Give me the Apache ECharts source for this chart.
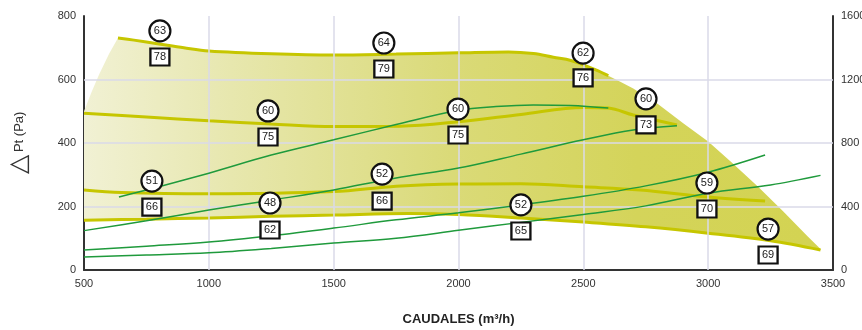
<!DOCTYPE html>
<html><head><meta charset="utf-8">
<script src="https://cdn.jsdelivr.net/npm/echarts/dist/echarts.min.js"></script>
<style>html,body{margin:0;padding:0;background:#fff}#c{width:862px;height:330px}</style>
</head><body><div id="c"></div>
<script>
// ---- data ----
const xGridValues = [1000, 1500, 2000, 2500, 3000];
const yGridValues = [200, 400, 600];

const fanTop = [[636,731],[700,724],[800,712],[900,700],[1000,690],[1250,681],[1500,677],[1750,680],[2000,684],[2200,687],[2300,682],[2380,670],[2450,660],[2500,646],[2550,630],[2600,612]];
const fanMid1 = [[500,494],[750,482],[1000,470],[1250,460],[1500,452],[1765,453],[2000,467],[2250,490],[2500,512],[2600,510],[2700,488],[2875,457]];
const fanMid2 = [[500,252],[650,244],[1000,240],[1500,247],[1750,264],[2000,271],[2250,272],[2500,262],[2727,252],[3000,230],[3228,217]];
const fanBottom = [[500,157],[750,160],[1000,164],[1250,169],[1500,173],[1800,178],[2000,175],[2250,164],[2500,151],[2750,136],[3000,116],[3250,92],[3450,63]];

const fillLeftEdge = [[500,500],[530,560],[560,615],[600,680]];
const fillRightEdge = [[2650,592],[2700,572],[2800,522],[2900,462],[3000,405],[3100,335],[3200,262],[3300,185],[3400,105],[3450,66]];

const sys1 = [[640,230],[800,262],[1000,305],[1250,362],[1500,410],[1750,458],[2000,503],[2150,515],[2300,520],[2450,518],[2600,510]];
const sys2 = [[500,124],[750,155],[1000,189],[1250,220],[1500,252],[1750,290],[2000,321],[2250,365],[2500,410],[2700,441],[2875,454]];
const sys3 = [[500,63],[750,75],[1000,88],[1250,108],[1500,132],[1750,158],[2000,180],[2250,205],[2500,232],[2750,265],[3000,308],[3228,362]];
const sys4 = [[500,41],[750,47],[1000,54],[1250,68],[1500,85],[1750,100],[2000,125],[2250,150],[2500,175],[2750,202],[3000,242],[3250,268],[3450,298]];

const circleMarks = [[804,753,'63'],[1701,715,'64'],[2499,683,'62'],[2751,539,'60'],[1237,501,'60'],[1998,507,'60'],[772,280,'51'],[1245,211,'48'],[1694,302,'52'],[2250,205,'52'],[2995,274,'59'],[3240,129,'57']];
const squareMarks = [[804,671,'78'],[1701,633,'79'],[2499,605,'76'],[2751,457,'73'],[1237,419,'75'],[1998,425,'75'],[772,198,'66'],[1245,126,'62'],[1694,217,'66'],[2250,123,'65'],[2995,192,'70'],[3240,47,'69']];

// ---- chart ----
const envelope = [].concat(fillLeftEdge, fanTop, fillRightEdge, fanBottom.slice().reverse());
const FONT = "'Liberation Sans', Arial, sans-serif";
const yellow = '#c6c600';
const green = '#1f9a3c';
const plain = v => String(v);

const chart = echarts.init(document.getElementById('c'), null, {renderer: 'canvas'});

function fanLine(data) {
  return {type:'line', data, smooth:0.35, showSymbol:false, silent:true, z:4,
    lineStyle:{color:yellow, width:3}};
}
function sysLine(data) {
  return {type:'line', data, smooth:0.35, showSymbol:false, silent:true, z:5,
    lineStyle:{color:green, width:1.5}};
}
const markLabel = {show:true, position:'inside', formatter:p=>p.value[2], color:'#222', fontSize:11, fontFamily:FONT};

chart.setOption({
  animation:false,
  textStyle:{fontFamily:FONT},
  grid:{left:84, right:29, top:16, bottom:60, containLabel:false, outerBoundsMode:'none'},
  xAxis:{type:'value', min:500, max:3500, interval:500,
    axisLine:{show:true, onZero:false, lineStyle:{color:'#333', width:2}},
    axisTick:{show:false}, splitLine:{show:false},
    axisLabel:{color:'#333', fontSize:11, margin:8, fontFamily:FONT, formatter:plain},
    name:'CAUDALES (m³/h)', nameLocation:'middle', nameGap:43,
    nameTextStyle:{fontSize:13, color:'#222', fontWeight:600, fontFamily:FONT}},
  yAxis:[
    {type:'value', min:0, max:800, interval:200,
      axisLine:{show:true, lineStyle:{color:'#333', width:2}},
      axisTick:{show:false}, splitLine:{show:false},
      axisLabel:{color:'#333', fontSize:11, margin:8, fontFamily:FONT, formatter:plain},
      name:'{t|△} {p|Pt (Pa)}', nameLocation:'middle', nameGap:52,
      nameTextStyle:{color:'#333', fontFamily:FONT, rich:{t:{fontSize:25, color:'#333'}, p:{fontSize:13, color:'#333'}}}},
    {type:'value', min:0, max:1600, interval:400, position:'right',
      axisLine:{show:true, lineStyle:{color:'#333', width:2}},
      axisTick:{show:false}, splitLine:{show:false},
      axisLabel:{color:'#333', fontSize:11, margin:8, fontFamily:FONT, formatter:plain}}
  ],
  series:[
    {type:'custom', silent:true, z:1, data:[[500,0]],
      renderItem:(params, api)=>{
        const pts = envelope.map(p=>api.coord(p));
        return {type:'polygon', shape:{points:pts},
          style:{fill:new echarts.graphic.LinearGradient(0,0,1,0,[
            {offset:0, color:'#f1f1d4'},{offset:0.2, color:'#e7e7ae'},
            {offset:0.5, color:'#dada78'},{offset:0.75, color:'#d4d45a'},{offset:1, color:'#d3d352'}])}};
      }},
    {type:'line', data:[], silent:true, z:2,
      markLine:{silent:true, symbol:['none','none'], label:{show:false},
        lineStyle:{color:'#dadae8', width:1.5, type:'solid'},
        data:[].concat(xGridValues.map(v=>({xAxis:v})), yGridValues.map(v=>({yAxis:v})))}},
    fanLine(fanTop), fanLine(fanMid1), fanLine(fanMid2), fanLine(fanBottom),
    sysLine(sys1), sysLine(sys2), sysLine(sys3), sysLine(sys4),
    {type:'scatter', data:circleMarks, symbol:'circle', symbolSize:21, z:10, silent:true,
      itemStyle:{color:'#fff', borderColor:'#111', borderWidth:2.2, opacity:1}, label:markLabel},
    {type:'scatter', data:squareMarks, symbol:'rect', symbolSize:[19,17], z:10, silent:true,
      itemStyle:{color:'#fff', borderColor:'#111', borderWidth:2.2, opacity:1}, label:markLabel}
  ]
});
</script></body></html>
